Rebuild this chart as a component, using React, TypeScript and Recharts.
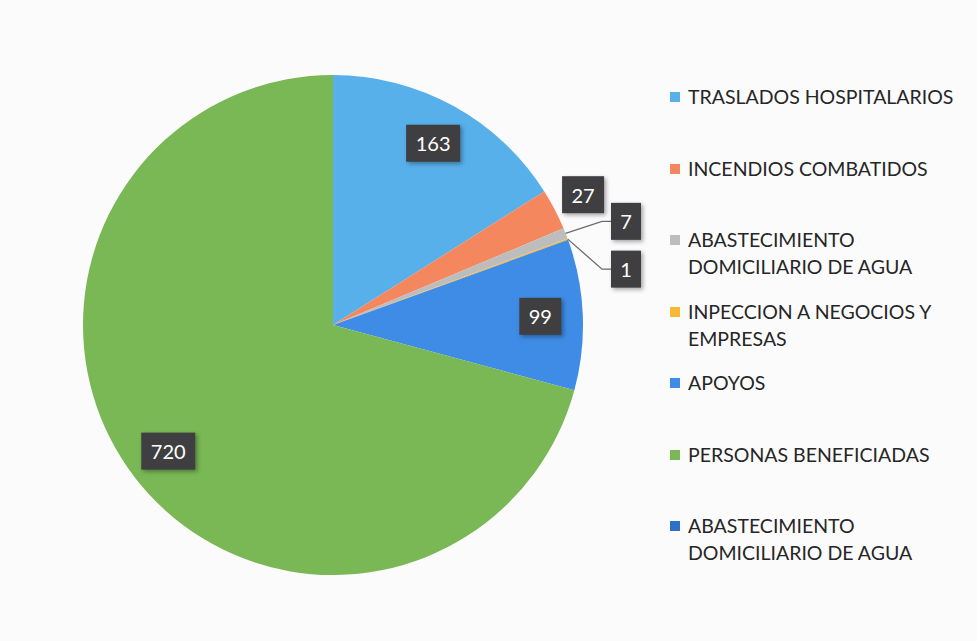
import { PieChart, Pie, Cell, Legend } from "recharts";

const CATEGORIES = [
  "TRASLADOS HOSPITALARIOS",
  "INCENDIOS COMBATIDOS",
  "ABASTECIMIENTO DOMICILIARIO DE AGUA",
  "INPECCION A NEGOCIOS Y EMPRESAS",
  "APOYOS",
  "PERSONAS BENEFICIADAS",
  "ABASTECIMIENTO DOMICILIARIO DE AGUA",
];

const VALUES = [163, 27, 7, 1, 99, 720, 0];

const COLORS = ["#58b0ea", "#f4875d", "#bdbdbd", "#f7b936", "#3f8ce6", "#79b855", "#2f6fc9"];

const chartData = CATEGORIES.map((name, i) => ({ name, value: VALUES[i] }));

const FONT = "Lato, 'Open Sans', sans-serif";
const RAD = Math.PI / 180;

function renderLabel(props: any) {
  const { cx, cy, midAngle, outerRadius, value, percent, index } = props;
  if (!value) return null;
  const cos = Math.cos(-midAngle * RAD);
  const sin = Math.sin(-midAngle * RAD);
  const text = String(value);
  const w = 18 + text.length * 12;
  const h = 37;
  let x: number;
  let y: number;
  let line = null;
  if (percent > 0.05) {
    x = cx + outerRadius * 0.83 * cos;
    y = cy + outerRadius * 0.83 * sin;
  } else if (percent > 0.015) {
    x = cx + (outerRadius + 32) * cos;
    y = cy + (outerRadius + 32) * sin;
  } else {
    const total = VALUES.reduce((a, b) => a + b, 0);
    const tiny = VALUES.map((v, i) => ({ i, p: v / total }))
      .filter((d) => d.p > 0 && d.p <= 0.015)
      .map((d) => d.i);
    const k = tiny.indexOf(index);
    const ex = cx + outerRadius * cos;
    const ey = cy + outerRadius * sin;
    x = cx + outerRadius + 43;
    y = ey - 12 + k * 42;
    const bx = x - w / 2;
    line = (
      <polyline
        points={`${ex},${ey} ${bx - 9},${y} ${bx},${y}`}
        fill="none"
        stroke="#6b6b6b"
        strokeWidth={1.3}
      />
    );
  }
  return (
    <g key={`lbl-${index}`}>
      {line}
      <rect
        x={x - w / 2}
        y={y - h / 2}
        width={w}
        height={h}
        fill="#3f3f42"
        style={{ filter: "drop-shadow(2px 2px 2px rgba(0,0,0,0.35))" }}
      />
      <text
        x={x}
        y={y}
        fill="#ffffff"
        fontSize={20}
        fontFamily={FONT}
        textAnchor="middle"
        dominantBaseline="central"
      >
        {text}
      </text>
    </g>
  );
}

function renderLegend() {
  return (
    <div style={{ fontFamily: FONT, fontSize: 19.5, color: "#262626" }}>
      {CATEGORIES.map((name, i) => (
        <div key={i} style={{ height: 71.5, display: "flex", alignItems: "flex-start" }}>
          <span
            style={{
              display: "inline-block",
              width: 10,
              height: 10,
              marginTop: 9,
              marginRight: 8,
              backgroundColor: COLORS[i],
              flexShrink: 0,
            }}
          />
          <span style={{ width: 266, lineHeight: "27px" }}>{name}</span>
        </div>
      ))}
    </div>
  );
}

export default function App() {
  return (
    <div
      style={{
        position: "absolute",
        left: 0,
        top: 0,
        width: 977,
        height: 641,
        background: "#fbfbfb",
      }}
    >
      <PieChart width={977} height={641}>
        <Pie
          data={chartData}
          dataKey="value"
          nameKey="name"
          cx={328}
          cy={320}
          outerRadius={250}
          startAngle={90}
          endAngle={-270}
          stroke="none"
          label={renderLabel}
          labelLine={false}
          isAnimationActive={false}
        >
          {chartData.map((entry, i) => (
            <Cell key={`cell-${i}`} fill={COLORS[i]} />
          ))}
        </Pie>
        <Legend
          layout="vertical"
          content={renderLegend}
          wrapperStyle={{ left: 670, top: 83, width: 300 }}
        />
      </PieChart>
    </div>
  );
}
